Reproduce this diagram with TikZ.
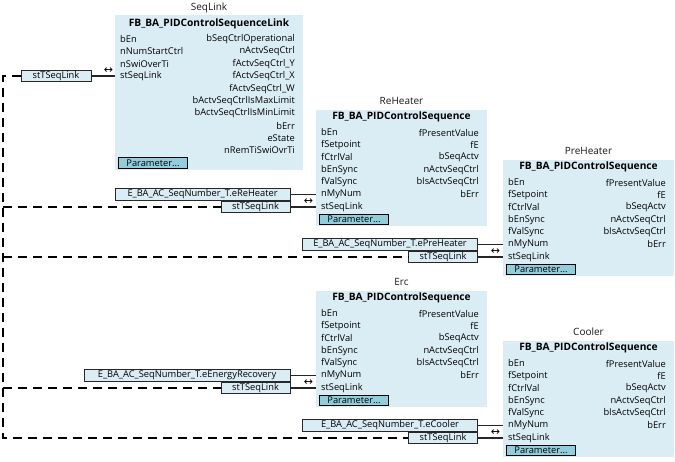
\documentclass[tikz,border=0pt]{standalone}
\usepackage{fontspec}
\setmainfont{Open Sans}
\newfontfamily\symfont{DejaVu Sans}
\definecolor{blockfill}{RGB}{219,237,244}
\definecolor{parfill}{RGB}{146,205,220}
\definecolor{bordergray}{RGB}{40,40,40}
\newcommand\pidblk[4]{%
  \node[blk, minimum width=171pt, minimum height=116pt, anchor=north west] (#1) at (#2,#3-7) {};
  \node[lbl] (#1-lbl) at (#2+85.5,#3-16) {#4};
  \node[ttl] (#1-ttl) at (#2+85.5,#3) {FB\_BA\_PIDControlSequence};
  \foreach \nm [count=\i from 0] in {bEn,fSetpoint,fCtrlVal,bEnSync,fValSync,nMyNum,stSeqLink}
    \node[pinL] (#1-in\i) at (#2+5,#3+15.8+12.4*\i) {\nm};
  \foreach \nm [count=\i from 0] in {fPresentValue,fE,bSeqActv,nActvSeqCtrl,bIsActvSeqCtrl,bErr}
    \node[pinR] (#1-out\i) at (#2+163,#3+15.8+12.4*\i) {\nm};
  \node[parbox, anchor=west] (#1-par) at (#2+3,#3+102.6) {Parameter...};
}
\begin{document}
\begin{tikzpicture}[x=1pt,y=-1pt,
  blk/.style={fill=blockfill, draw=none, inner sep=0pt},
  lbl/.style={font=\fontsize{10}{11}\selectfont, inner sep=0pt, text=black!90},
  ttl/.style={font=\fontsize{10.2}{11}\selectfont\bfseries, inner sep=0pt, text=black},
  pinL/.style={font=\fontsize{9.3}{10}\selectfont, inner sep=0pt, anchor=west, text=black},
  pinR/.style={font=\fontsize{9.3}{10}\selectfont, inner sep=0pt, anchor=east, text=black},
  parbox/.style={draw=black, fill=parfill, line width=1pt, minimum width=69pt, minimum height=10.5pt,
    inner sep=0pt, font=\fontsize{9.3}{10}\selectfont},
  conbox/.style={draw=bordergray, fill=blockfill, line width=0.9pt, minimum height=11.5pt,
    inner sep=0pt, font=\fontsize{9.3}{10}\selectfont},
  wire/.style={line width=1.2pt, draw=black!85},
  link/.style={line width=1.4pt, draw=black, dash pattern=on 9pt off 6pt},
  arr/.style={font=\symfont\fontsize{11}{12}\selectfont, inner sep=0pt}
]
\useasboundingbox (0,0) rectangle (675,462);

% SeqLink block
\node[blk, minimum width=188pt, minimum height=155pt, anchor=north west] (sl) at (115,15) {};
\node[lbl] (sl-lbl) at (209,7.5) {SeqLink};
\node[ttl] (sl-ttl) at (209,24) {FB\_BA\_PIDControlSequenceLink};
\foreach \nm [count=\i from 0] in {bEn,nNumStartCtrl,nSwiOverTi,stSeqLink}
  \node[pinL] (sl-in\i) at (120,39+12.4*\i) {\nm};
\foreach \nm [count=\i from 0] in {bSeqCtrlOperational,nActvSeqCtrl,fActvSeqCtrl\_Y,fActvSeqCtrl\_X,fActvSeqCtrl\_W,bActvSeqCtrlIsMaxLimit,bActvSeqCtrlIsMinLimit,bErr,eState,nRemTiSwiOvrTi}
  \node[pinR] (sl-out\i) at (295,39+12.4*\i) {\nm};
\node[parbox, anchor=west] (sl-par) at (118,163) {Parameter...};

% PID blocks
\pidblk{re}{316}{116.7}{ReHeater}
\pidblk{pre}{503}{166.7}{PreHeater}
\pidblk{erc}{316}{297.7}{Erc}
\pidblk{co}{503}{347.7}{Cooler}

% SeqLink input
\node[conbox, minimum width=70pt] (slT) at (56,76) {stTSeqLink};
\draw[wire] (slT.east) -- (slT.east -| sl.west);
\node[arr] (slA) at (108.5,70.5) {↔};

% ReHeater connectors
\node[conbox, minimum width=175pt, anchor=east] (reE) at (290.5,194.5) {E\_BA\_AC\_SeqNumber\_T.eReHeater};
\node[conbox, minimum width=69pt, anchor=east] (reT) at (290.5,207) {stTSeqLink};
\draw[wire] (reE.east) -- (reE.east -| re.west);
\draw[wire] (reT.east) -- (reT.east -| re.west);
\node[arr] (reA) at (308.5,201.5) {↔};

% PreHeater connectors
\node[conbox, minimum width=175pt, anchor=east] (preE) at (478,244.5) {E\_BA\_AC\_SeqNumber\_T.ePreHeater};
\node[conbox, minimum width=69pt, anchor=east] (preT) at (478,257) {stTSeqLink};
\draw[wire] (preE.east) -- (preE.east -| pre.west);
\draw[wire] (preT.east) -- (preT.east -| pre.west);
\node[arr] (preA) at (495.5,251.5) {↔};

% Erc connectors
\node[conbox, minimum width=206pt, anchor=east] (ercE) at (290.5,375.5) {E\_BA\_AC\_SeqNumber\_T.eEnergyRecovery};
\node[conbox, minimum width=69pt, anchor=east] (ercT) at (290.5,388) {stTSeqLink};
\draw[wire] (ercE.east) -- (ercE.east -| erc.west);
\draw[wire] (ercT.east) -- (ercT.east -| erc.west);
\node[arr] (ercA) at (308.5,382.5) {↔};

% Cooler connectors
\node[conbox, minimum width=175pt, anchor=east] (coE) at (478,425.5) {E\_BA\_AC\_SeqNumber\_T.eCooler};
\node[conbox, minimum width=69pt, anchor=east] (coT) at (478,438) {stTSeqLink};
\draw[wire] (coE.east) -- (coE.east -| co.west);
\draw[wire] (coT.east) -- (coT.east -| co.west);
\node[arr] (coA) at (495.5,432.5) {↔};

% dashed link bus
\coordinate (bus) at (3,0);
\draw[link] (slT.west) -| (bus |- coT.west) -- (coT.west);
\draw[link] (bus |- reT.west) -- (reT.west);
\draw[link] (bus |- preT.west) -- (preT.west);
\draw[link] (bus |- ercT.west) -- (ercT.west);
\end{tikzpicture}
\end{document}
